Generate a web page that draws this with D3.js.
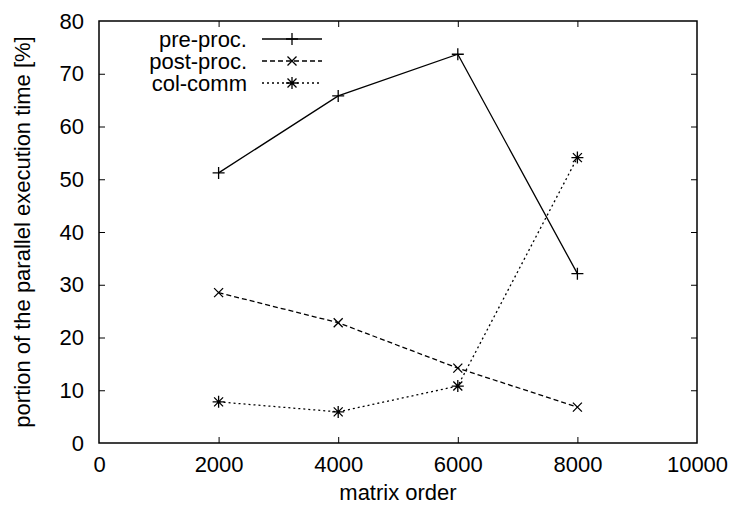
<!DOCTYPE html>
<html>
<head>
<meta charset="utf-8">
<script src="https://cdn.jsdelivr.net/npm/d3@7"></script>
<style>
    body { margin: 0; background: #fff; overflow: hidden; }
    svg { display: block; }
    text { font-family: "Liberation Sans", Arial, sans-serif; fill: #000; }
</style>
</head>
<body>
<div id="LineChart"></div>
<script>
// data
var matrixOrder = [2000, 4000, 6000, 8000];
var preProc  = [51.2, 65.8, 73.7, 32.1];
var postProc = [28.5, 22.8, 14.2, 6.8];
var colComm  = [7.8, 5.9, 10.8, 54.1];
var seriesNames = ["pre-proc.", "post-proc.", "col-comm"];
var xTicks = [0, 2000, 4000, 6000, 8000, 10000];
var yTicks = [0, 10, 20, 30, 40, 50, 60, 70, 80];

const width = 733, height = 508;
const margin = {left: 99, right: 36, top: 21, bottom: 65};
const innerWidth = width - margin.left - margin.right;
const innerHeight = height - margin.top - margin.bottom;
const fontSize = "22px";

const svg = d3.select('#LineChart')
                .append("svg")
                .attr('width', width)
                .attr('height', height);

const g = svg.append('g')
            .attr('transform', `translate(${margin.left},${margin.top})`);

var xScale = d3.scaleLinear()
                .domain([0, 10000])
                .range([0, innerWidth]);
var yScale = d3.scaleLinear()
                .domain([0, 80])
                .range([innerHeight, 0]);

// ticks on all four sides, pointing inward
const tickLen = 6;
const xAxisB = d3.axisBottom(xScale).tickValues(xTicks).tickSize(-tickLen).tickPadding(13).tickFormat(d3.format("d"));
const xAxisT = d3.axisTop(xScale).tickValues(xTicks).tickSize(-tickLen);
const yAxisL = d3.axisLeft(yScale).tickValues(yTicks).tickSize(-tickLen).tickPadding(15);
const yAxisR = d3.axisRight(yScale).tickValues(yTicks).tickSize(-tickLen);

function styleAxis(sel) {
    sel.select(".domain").remove();
    sel.selectAll(".tick line").attr("stroke", "#000").attr("stroke-width", 1);
    sel.selectAll("text").style("font-size", fontSize).attr("fill", "#000");
}

g.append('g').attr('transform', `translate(0,${innerHeight})`).call(xAxisB).call(styleAxis);
g.append('g').call(xAxisT).call(styleAxis).selectAll("text").remove();
g.append('g').call(yAxisL).call(styleAxis);
g.append('g').attr('transform', `translate(${innerWidth},0)`).call(yAxisR).call(styleAxis).selectAll("text").remove();

// hide the tick marks at the corners
g.selectAll(".tick").filter(d => d === 0 || d === 10000 || d === 80)
    .select("line").remove();

g.append("rect")
    .attr("width", innerWidth)
    .attr("height", innerHeight)
    .attr("fill", "none")
    .attr("stroke", "#000")
    .attr("stroke-width", 1.5);

// axis titles
svg.append("text")
    .attr("x", margin.left + innerWidth / 2)
    .attr("y", 500)
    .attr("text-anchor", "middle")
    .style("font-size", fontSize)
    .text("matrix order");

svg.append("text")
    .attr("transform", `translate(30,${margin.top + innerHeight / 2}) rotate(-90)`)
    .attr("text-anchor", "middle")
    .style("font-size", fontSize)
    .text("portion of the parallel execution time [%]");

// series
var series = [
    {name: seriesNames[0], values: preProc, dash: null, mark: "plus"},
    {name: seriesNames[1], values: postProc, dash: "5,3", mark: "cross"},
    {name: seriesNames[2], values: colComm, dash: "2,3", mark: "star"}
];

var line = d3.line()
            .x(d => xScale(d.x))
            .y(d => yScale(d.y))
            .curve(d3.curveLinear);

function markPath(type, s) {
    var p = d3.path();
    if (type === "plus" || type === "star") {
        p.moveTo(-s, 0); p.lineTo(s, 0);
        p.moveTo(0, -s); p.lineTo(0, s);
    }
    if (type === "cross" || type === "star") {
        var c = s * 0.75;
        p.moveTo(-c, -c); p.lineTo(c, c);
        p.moveTo(-c, c); p.lineTo(c, -c);
    }
    return p.toString();
}

series.forEach(function(s) {
    var pts = s.values.map((v, i) => ({x: matrixOrder[i], y: v}));
    g.append("path")
        .attr("d", line(pts))
        .attr("fill", "none")
        .attr("stroke", "#000")
        .attr("stroke-width", 1.3)
        .attr("stroke-dasharray", s.dash);
    g.selectAll(null)
        .data(pts)
        .enter()
        .append("path")
        .attr("transform", d => `translate(${xScale(d.x)},${yScale(d.y)})`)
        .attr("d", markPath(s.mark, 6))
        .attr("fill", "none")
        .attr("stroke", "#000")
        .attr("stroke-width", 1.3);
});

// legend
const legend = svg.append("g");
series.forEach(function(s, i) {
    var ly = 39 + i * 22;
    legend.append("text")
        .attr("x", 247)
        .attr("y", ly)
        .attr("dy", "0.35em")
        .attr("text-anchor", "end")
        .style("font-size", fontSize)
        .text(s.name);
    legend.append("line")
        .attr("x1", 262).attr("x2", 322)
        .attr("y1", ly).attr("y2", ly)
        .attr("stroke", "#000")
        .attr("stroke-width", 1.3)
        .attr("stroke-dasharray", s.dash);
    legend.append("path")
        .attr("transform", `translate(292,${ly})`)
        .attr("d", markPath(s.mark, 6))
        .attr("fill", "none")
        .attr("stroke", "#000")
        .attr("stroke-width", 1.3);
});
</script>
</body>
</html>
